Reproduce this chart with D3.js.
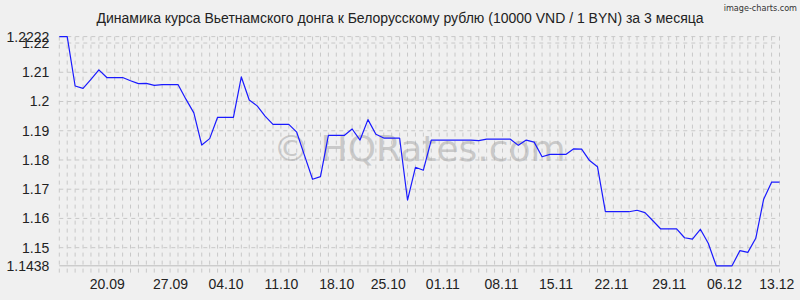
<!DOCTYPE html>
<html>
<head>
<meta charset="utf-8">
<script src="https://cdn.jsdelivr.net/npm/d3@7"></script>
<style>
  body { margin: 0; background: #f0f0f0; }
  svg { display: block; font-family: "Liberation Sans", Arial, sans-serif; }
</style>
</head>
<body>
<div id="chart"></div>
<script>
// Rate of 10000 VND in BYN, one value per day (index 0 .. 91)
const rates = [
  1.2222, 1.2222, 1.2053, 1.2045, 1.2076, 1.2108, 1.2082, 1.2082, 1.2082, 1.2071,
  1.2061, 1.2062, 1.2055, 1.2058, 1.2058, 1.2058, 1.2008, 1.1961, 1.1851, 1.1873,
  1.1946, 1.1946, 1.1946, 1.2084, 1.2005, 1.1985, 1.1950, 1.1922, 1.1922, 1.1922,
  1.1895, 1.1814, 1.1734, 1.1743, 1.1884, 1.1884, 1.1884, 1.1906, 1.1868, 1.1938,
  1.1888, 1.1875, 1.1875, 1.1875, 1.1663, 1.1775, 1.1765, 1.1868, 1.1868, 1.1868,
  1.1868, 1.1868, 1.1868, 1.1866, 1.1871, 1.1871, 1.1871, 1.1871, 1.1850, 1.1868,
  1.1861, 1.1811, 1.1819, 1.1819, 1.1819, 1.1838, 1.1837, 1.1798, 1.1777, 1.1623,
  1.1623, 1.1623, 1.1623, 1.1628, 1.1620, 1.1592, 1.1564, 1.1564, 1.1564, 1.1534,
  1.1529, 1.1563, 1.1515, 1.1438, 1.1438, 1.1438, 1.1490, 1.1484, 1.1532, 1.1666,
  1.1724, 1.1724
];

// Date labels and the data index each one sits at
const xLabels = ['20.09', '27.09', '04.10', '11.10', '18.10', '25.10', '01.11',
                 '08.11', '15.11', '22.11', '29.11', '06.12', '13.12'];
const xLabelPos = [6, 14, 21, 28, 35, 41.5, 48.4, 55.8, 62.7, 69.7, 77, 84, 90.6];

// Round y ticks (min / max of the data are labelled too)
const yTicks = [1.15, 1.16, 1.17, 1.18, 1.19, 1.2, 1.21, 1.22];

const title = 'Динамика курса Вьетнамского донга к Белорусскому рублю (10000 VND / 1 BYN) за 3 месяца';

const width = 800, height = 300;
const margin = { top: 36.6, right: 20.5, bottom: 34.2, left: 59.3 };

const svg = d3.select('#chart')
  .append('svg')
  .attr('width', width)
  .attr('height', height);

svg.append('rect')
  .attr('width', width)
  .attr('height', height)
  .attr('fill', '#f0f0f0');

const [yMin, yMax] = d3.extent(rates);

const x = d3.scaleLinear()
  .domain([0, rates.length - 1])
  .range([margin.left, width - margin.right]);

const y = d3.scaleLinear()
  .domain([yMin, yMax])
  .range([height - margin.bottom, margin.top]);

// Grid: one dashed vertical line per day
const grid = svg.append('g').attr('class', 'grid');

grid.selectAll('.vgrid')
  .data(d3.range(rates.length))
  .enter()
  .append('line')
  .attr('class', 'vgrid')
  .attr('x1', d => x(d))
  .attr('x2', d => x(d))
  .attr('y1', y(yMax))
  .attr('y2', y(yMin) + 9)
  .attr('stroke', '#c8c8c8')
  .attr('stroke-width', 1)
  .attr('stroke-dasharray', '4,4');

// Horizontal dashed lines at ticks and at the extent
grid.selectAll('.hgrid')
  .data(yTicks.concat([yMax]))
  .enter()
  .append('line')
  .attr('class', 'hgrid')
  .attr('x1', x(0))
  .attr('x2', x(rates.length - 1))
  .attr('y1', d => y(d))
  .attr('y2', d => y(d))
  .attr('stroke', '#c8c8c8')
  .attr('stroke-width', 1)
  .attr('stroke-dasharray', '4,4');

// Bottom axis line
svg.append('line')
  .attr('x1', x(0))
  .attr('x2', x(rates.length - 1))
  .attr('y1', y(yMin))
  .attr('y2', y(yMin))
  .attr('stroke', '#bdbdbd')
  .attr('stroke-width', 1);

// Watermark
svg.append('text')
  .attr('x', (x(0) + x(rates.length - 1)) / 2)
  .attr('y', 161)
  .attr('text-anchor', 'middle')
  .attr('font-family', '"DejaVu Sans", sans-serif')
  .attr('font-size', '36px')
  .attr('fill', '#a8a8a8')
  .attr('fill-opacity', 0.55)
  .text('© HQRates.com');

// Y axis labels
const yAxis = d3.axisLeft(y)
  .tickValues([yMin].concat(yTicks, [yMax]))
  .tickSize(0)
  .tickPadding(10)
  .tickFormat(d => (d === yMin || d === yMax) ? d3.format('.4f')(d) : String(+d.toFixed(2)));

svg.append('g')
  .attr('transform', `translate(${margin.left},0)`)
  .call(yAxis)
  .call(g => g.select('.domain').remove())
  .call(g => g.selectAll('text')
    .attr('fill', '#222')
    .attr('font-size', '14px')
    .attr('font-family', '"Liberation Sans", Arial, sans-serif'));

// X axis labels
const xAxis = d3.axisBottom(x)
  .tickValues(xLabelPos)
  .tickSize(0)
  .tickPadding(13)
  .tickFormat((d, i) => xLabels[i]);

svg.append('g')
  .attr('transform', `translate(0,${y(yMin)})`)
  .call(xAxis)
  .call(g => g.select('.domain').remove())
  .call(g => g.selectAll('text')
    .attr('fill', '#222')
    .attr('font-size', '14px')
    .attr('font-family', '"Liberation Sans", Arial, sans-serif'));

// Rate line
const line = d3.line()
  .x((d, i) => x(i))
  .y(d => y(d));

svg.append('path')
  .datum(rates)
  .attr('fill', 'none')
  .attr('stroke', '#1a1aff')
  .attr('stroke-width', 1.2)
  .attr('stroke-linejoin', 'round')
  .attr('d', line);

// Title
svg.append('text')
  .attr('x', 400)
  .attr('y', 23)
  .attr('text-anchor', 'middle')
  .attr('font-size', '14px')
  .attr('fill', '#222')
  .text(title);

// Credit
svg.append('text')
  .attr('x', 797)
  .attr('y', 11)
  .attr('text-anchor', 'end')
  .attr('font-family', '"DejaVu Sans Condensed", "Liberation Sans Narrow", sans-serif')
  .attr('font-size', '9px')
  .attr('fill', '#333')
  .text('image-charts.com');
</script>
</body>
</html>
